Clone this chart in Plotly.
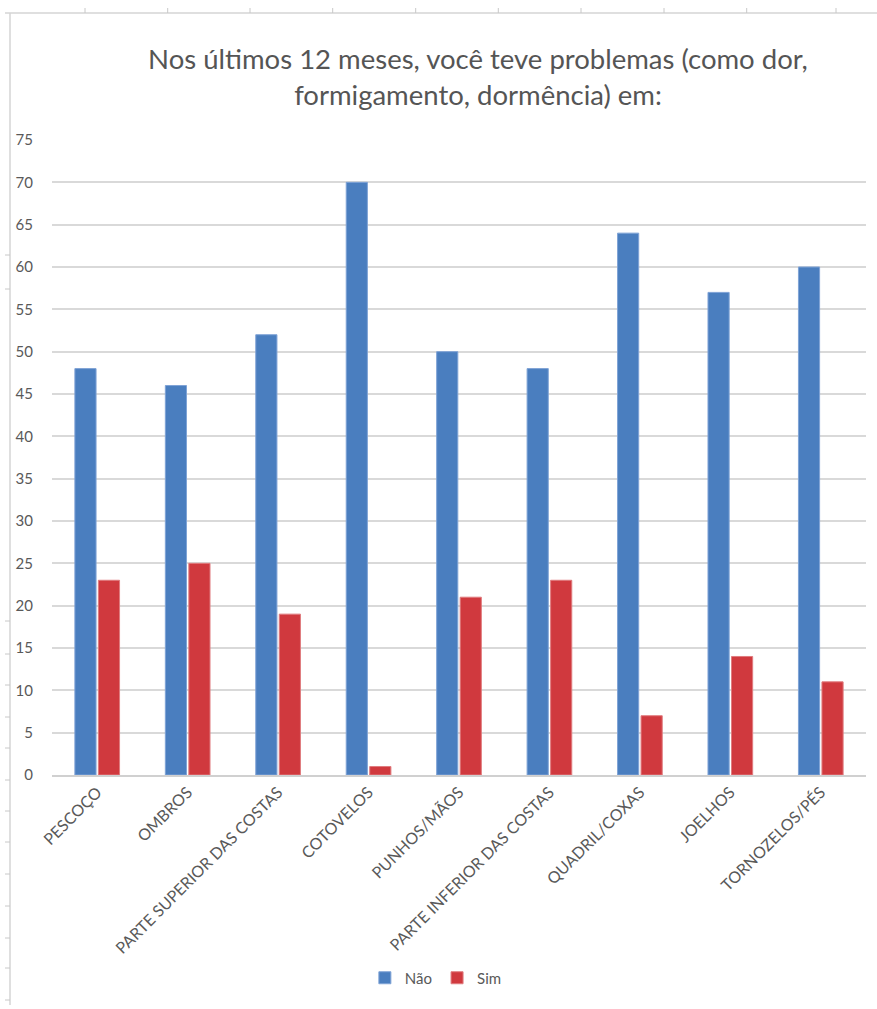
import plotly.graph_objects as go

categories = ["PESCOÇO", "OMBROS", "PARTE SUPERIOR DAS COSTAS", "COTOVELOS",
              "PUNHOS/MÃOS", "PARTE INFERIOR DAS COSTAS", "QUADRIL/COXAS",
              "JOELHOS", "TORNOZELOS/PÉS"]
nao = [48, 46, 52, 70, 50, 48, 64, 57, 60]
sim = [23, 25, 19, 1, 21, 23, 7, 14, 11]
y_ticks = list(range(0, 80, 5))

W, H = 877, 1009
L, R, T, B = 52, 11, 140, 234
PW, PH = W - L - R, H - T - B

def px(x):
    return (x - L) / PW

def py(y):
    return (H - B - y) / PH

font_family = "Lato, 'Open Sans', sans-serif"
grey = "#595959"

fig = go.Figure()
fig.add_trace(go.Bar(name="Não", x=categories, y=nao,
                     marker=dict(color="#4A7EBF", line=dict(color="#7FA3D6", width=1))))
fig.add_trace(go.Bar(name="Sim", x=categories, y=sim,
                     marker=dict(color="#D0393E", line=dict(color="#E07B7E", width=1))))

shapes = []
line_c = "#d4d4d4"
# sheet borders (top and left)
shapes.append(dict(type="line", xref="paper", yref="paper", x0=px(5), x1=px(877), y0=py(13), y1=py(13),
                   line=dict(color=line_c, width=1.5)))
shapes.append(dict(type="line", xref="paper", yref="paper", x0=px(10), x1=px(10), y0=py(13), y1=py(1005),
                   line=dict(color=line_c, width=1.5)))
for tx in [85, 167.7, 250, 332.7, 415.7, 498.3, 581, 664, 746.7, 836]:
    shapes.append(dict(type="line", xref="paper", yref="paper", x0=px(tx), x1=px(tx), y0=py(8), y1=py(13),
                       line=dict(color="#c8c8c8", width=1)))
for ty in [255, 289, 621, 654, 685, 717, 748, 780, 811, 842, 874, 906, 938, 968, 1000]:
    shapes.append(dict(type="line", xref="paper", yref="paper", x0=px(5), x1=px(10), y0=py(ty), y1=py(ty),
                       line=dict(color="#c8c8c8", width=1)))

fig.update_layout(
    width=W, height=H,
    margin=dict(l=L, r=R, t=T, b=B, autoexpand=False),
    paper_bgcolor="white", plot_bgcolor="white",
    barmode="group", bargap=0.48, bargroupgap=0.1,
    title=dict(text="Nos últimos 12 meses, você teve problemas (como dor,<br>formigamento, dormência) em:",
               x=478 / W, xref="container", xanchor="center",
               y=1 - 69 / H, yref="container", yanchor="middle",
               font=dict(family=font_family, size=27.5, color="#555555")),
    font=dict(family=font_family, color=grey),
    xaxis=dict(tickangle=-45, tickfont=dict(size=16, color=grey), showgrid=False,
               showline=True, linecolor="#d0d0d0", linewidth=1.5, ticks="",
               range=[-0.5, 8.5], automargin=False),
    yaxis=dict(range=[0, 75], tickvals=y_ticks, tickfont=dict(size=15, color=grey),
               showgrid=True, gridcolor="#d9d9d9", gridwidth=1.5, zeroline=False,
               showline=False, ticks="", ticklabelstandoff=18, automargin=False),
    legend=dict(orientation="h", x=0.497, xref="container", xanchor="center",
                y=1 - 978 / H, yref="container", yanchor="middle",
                font=dict(size=15, color=grey), itemwidth=30, traceorder="normal"),
    shapes=shapes,
)

fig.write_html("out.html")
